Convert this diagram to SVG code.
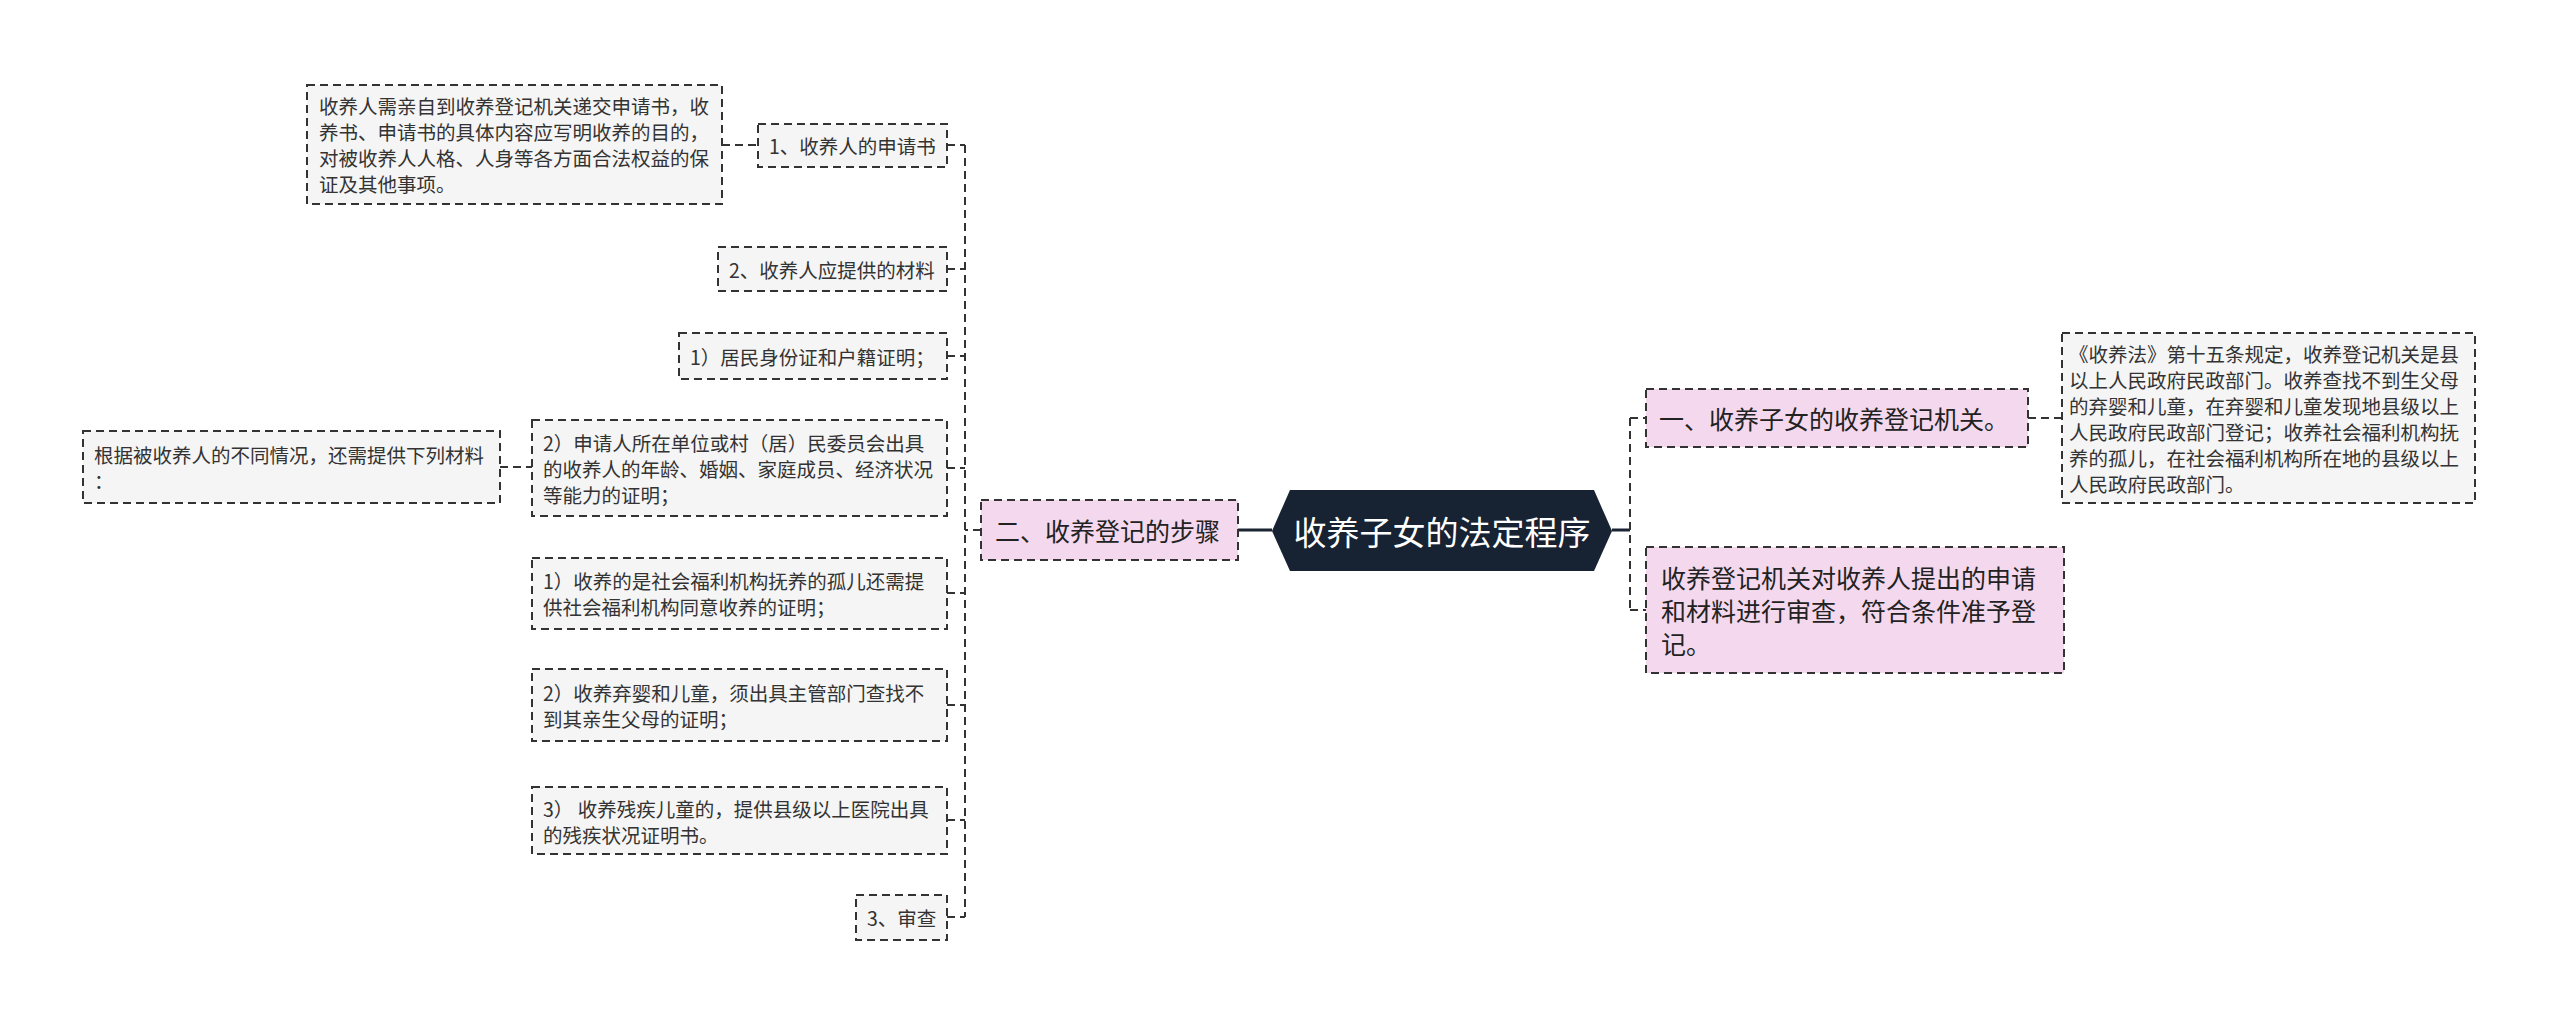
<svg xmlns="http://www.w3.org/2000/svg" width="2560" height="1026" viewBox="0 0 2560 1026">
<style>
.box{fill:#f5f5f5;stroke:#333;stroke-width:2;stroke-dasharray:8 5}
.pink{fill:#f4d9ee;stroke:#333;stroke-width:2;stroke-dasharray:8 5}
.t{font-family:"Noto Sans CJK SC","Noto Sans",sans-serif;font-size:19.5px;fill:#333;dominant-baseline:central}
.tp{font-family:"Noto Sans CJK SC","Noto Sans",sans-serif;font-size:25px;fill:#222;dominant-baseline:central}
.root{font-family:"Noto Sans CJK SC","Noto Sans",sans-serif;font-size:33px;fill:#fff;dominant-baseline:central;text-anchor:middle}
.c{fill:none;stroke:#333;stroke-width:2;stroke-dasharray:8 5}
.s{fill:none;stroke:#1a2433;stroke-width:3}
</style>
<rect width="2560" height="1026" fill="#fff"/>
<g id="connectors">
<line class="s" x1="1238" y1="530" x2="1272" y2="530"/>
<line class="s" x1="1612" y1="530" x2="1630" y2="530"/>
<path class="c" d="M981 530 H965 M965 145 V917 M947 145 H965 M947 269 H965 M947 356 H965 M947 468 H965 M947 593 H965 M947 705 H965 M947 820 H965 M947 917 H965"/>
<path class="c" d="M722 145 H758"/>
<path class="c" d="M500 467 H532"/>
<path class="c" d="M1630 418 V610 M1630 418 H1646 M1630 610 H1646"/>
<path class="c" d="M2028 418 H2062"/>
</g>
<g id="root">
<polygon points="1272,531 1290,490 1594,490 1612,531 1594,571 1290,571" fill="#172233"/>
<text class="root" x="1442" y="531">收养子女的法定程序</text>
</g>
<g id="n-step">
<rect class="pink" x="981" y="500" width="257" height="60"/>
<text class="tp" x="995" y="530">二、收养登记的步骤</text>
</g>
<g id="n-apply">
<rect class="box" x="758" y="124" width="189" height="43"/>
<text class="t" x="769" y="145.5">1、收养人的申请书</text>
</g>
<g id="n-apply-detail">
<rect class="box" x="307" y="85" width="415" height="119"/>
<text class="t" x="319" y="105">收养人需亲自到收养登记机关递交申请书，收</text>
<text class="t" x="319" y="131">养书、申请书的具体内容应写明收养的目的，</text>
<text class="t" x="319" y="157">对被收养人人格、人身等各方面合法权益的保</text>
<text class="t" x="319" y="183">证及其他事项。</text>
</g>
<g id="n-materials">
<rect class="box" x="718" y="247" width="229" height="44"/>
<text class="t" x="729" y="269">2、收养人应提供的材料</text>
</g>
<g id="n-id">
<rect class="box" x="679" y="333" width="268" height="46"/>
<text class="t" x="690" y="356">1）居民身份证和户籍证明；</text>
</g>
<g id="n-unit">
<rect class="box" x="532" y="420" width="415" height="96"/>
<text class="t" x="543" y="442">2）申请人所在单位或村（居）民委员会出具</text>
<text class="t" x="543" y="468">的收养人的年龄、婚姻、家庭成员、经济状况</text>
<text class="t" x="543" y="494">等能力的证明；</text>
</g>
<g id="n-extra">
<rect class="box" x="83" y="431" width="417" height="72"/>
<text class="t" x="94" y="454">根据被收养人的不同情况，还需提供下列材料</text>
<text class="t" x="94" y="480">：</text>
</g>
<g id="n-orphan">
<rect class="box" x="532" y="558" width="415" height="71"/>
<text class="t" x="543" y="580">1）收养的是社会福利机构抚养的孤儿还需提</text>
<text class="t" x="543" y="606">供社会福利机构同意收养的证明；</text>
</g>
<g id="n-abandoned">
<rect class="box" x="532" y="669" width="415" height="72"/>
<text class="t" x="543" y="692">2）收养弃婴和儿童，须出具主管部门查找不</text>
<text class="t" x="543" y="718">到其亲生父母的证明；</text>
</g>
<g id="n-disabled">
<rect class="box" x="532" y="787" width="415" height="67"/>
<text class="t" x="543" y="808">3） 收养残疾儿童的，提供县级以上医院出具</text>
<text class="t" x="543" y="834">的残疾状况证明书。</text>
</g>
<g id="n-review">
<rect class="box" x="856" y="895" width="91" height="45"/>
<text class="t" x="867" y="917">3、审查</text>
</g>
<g id="n-authority">
<rect class="pink" x="1646" y="389" width="382" height="58"/>
<text class="tp" x="1659" y="418">一、收养子女的收养登记机关。</text>
</g>
<g id="n-authority-detail">
<rect class="box" x="2062" y="333" width="413" height="170"/>
<text class="t" x="2069" y="353">《收养法》第十五条规定，收养登记机关是县</text>
<text class="t" x="2069" y="379">以上人民政府民政部门。收养查找不到生父母</text>
<text class="t" x="2069" y="405">的弃婴和儿童，在弃婴和儿童发现地县级以上</text>
<text class="t" x="2069" y="431">人民政府民政部门登记；收养社会福利机构抚</text>
<text class="t" x="2069" y="457">养的孤儿，在社会福利机构所在地的县级以上</text>
<text class="t" x="2069" y="483">人民政府民政部门。</text>
</g>
<g id="n-examine">
<rect class="pink" x="1646" y="547" width="418" height="126"/>
<text class="tp" x="1661" y="577">收养登记机关对收养人提出的申请</text>
<text class="tp" x="1661" y="610">和材料进行审查，符合条件准予登</text>
<text class="tp" x="1661" y="643">记。</text>
</g>
</svg>
